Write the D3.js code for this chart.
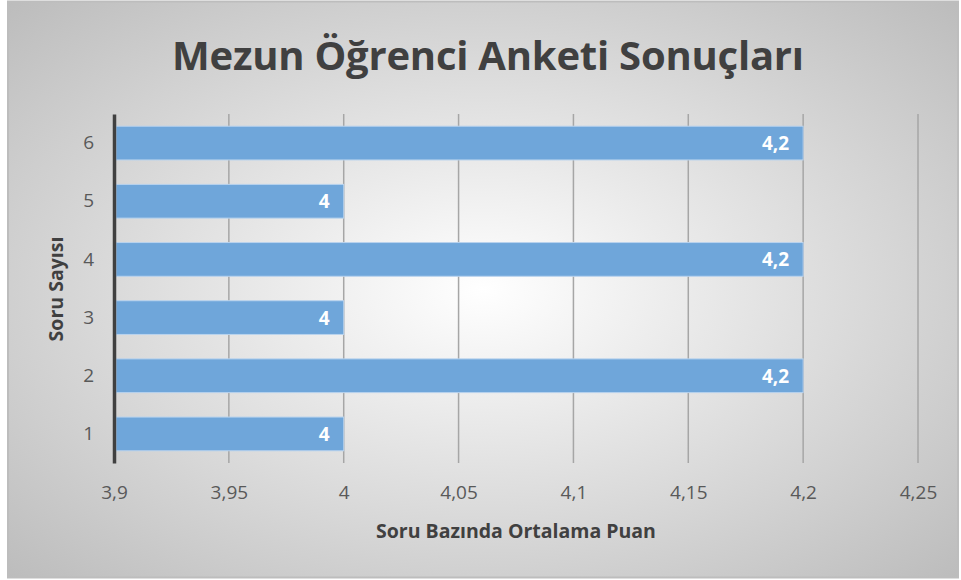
<!DOCTYPE html>
<html>
<head>
<meta charset="utf-8">
<script src="https://cdn.jsdelivr.net/npm/d3@7"></script>
<style>
  body { margin: 0; background: #fff; }
  text { font-family: "Open Sans", "Liberation Sans", sans-serif; }
</style>
</head>
<body>
<div id="chart"></div>
<script>
// data
var categories = ["1", "2", "3", "4", "5", "6"];
var values = [4, 4.2, 4, 4.2, 4, 4.2];
var xTicks = [3.9, 3.95, 4, 4.05, 4.1, 4.15, 4.2, 4.25];

var W = 961, H = 580;
var margin = {top: 114, right: 43, bottom: 117, left: 114},
    width = 918 - margin.left,
    height = 463 - margin.top;

var svg = d3.select("#chart")
  .append("svg")
    .attr("width", W)
    .attr("height", H);

// background gradient
var defs = svg.append("defs");
var grad = defs.append("radialGradient")
    .attr("id", "bg")
    .attr("cx", "50%").attr("cy", "50%").attr("r", "75%");
grad.append("stop").attr("offset", "0%").attr("stop-color", "#ffffff");
grad.append("stop").attr("offset", "100%").attr("stop-color", "#b8b8b8");

svg.append("rect")
    .attr("x", 8).attr("y", 1.5)
    .attr("width", 950).attr("height", 576)
    .attr("fill", "url(#bg)")
    .attr("stroke", "#bdbdbd")
    .attr("stroke-width", 2);

// title
svg.append("text")
    .attr("x", 488).attr("y", 70)
    .attr("text-anchor", "middle")
    .style("font-size", "40px")
    .style("font-weight", "bold")
    .style("fill", "#404040")
    .attr("textLength", 632)
    .text("Mezun Öğrenci Anketi Sonuçları");

var g = svg.append("g")
    .attr("transform", "translate(" + margin.left + "," + margin.top + ")");

var x = d3.scaleLinear()
  .domain([3.9, 4.25])
  .range([0, width]);

var y = d3.scaleBand()
  .domain(categories)
  .range([height, 0])
  .paddingInner(0.42)
  .paddingOuter(0.21);

var fmt = function(d) { return String(d).replace(".", ","); };

// vertical gridlines
g.selectAll(".grid")
  .data(xTicks.slice(1))
  .enter().append("line")
    .attr("x1", function(d) { return x(d); })
    .attr("x2", function(d) { return x(d); })
    .attr("y1", 0).attr("y2", height)
    .attr("stroke", "#a6a6a6")
    .attr("stroke-width", 1.5);

// bars
g.selectAll(".bar")
  .data(values)
  .enter().append("rect")
    .attr("x", x(3.9) + 2)
    .attr("y", function(d, i) { return y(categories[i]); })
    .attr("width", function(d) { return x(d) - x(3.9) - 2; })
    .attr("height", y.bandwidth())
    .attr("fill", "#6fa6da")
    .attr("stroke", "#b9d3ee")
    .attr("stroke-width", 1);

// value labels
g.selectAll(".lbl")
  .data(values)
  .enter().append("text")
    .attr("x", function(d) { return x(d) - 14; })
    .attr("y", function(d, i) { return y(categories[i]) + y.bandwidth() / 2 + 7; })
    .attr("text-anchor", "end")
    .style("font-size", "19px")
    .style("font-weight", "bold")
    .style("fill", "#ffffff")
    .text(function(d) { return fmt(d); });

// x axis
var xAxis = g.append("g")
  .attr("transform", "translate(0," + height + ")")
  .call(d3.axisBottom(x).tickValues(xTicks).tickFormat(fmt).tickSize(0).tickPadding(23));
xAxis.select(".domain").remove();
xAxis.selectAll("text")
  .style("font-size", "19px")
  .style("fill", "#595959")
  .style("font-family", "'Open Sans', sans-serif");

// y axis
var yAxis = g.append("g")
  .call(d3.axisLeft(y).tickSize(0).tickPadding(20));
yAxis.select(".domain")
  .attr("stroke", "#404040")
  .attr("stroke-width", 3.5);
yAxis.selectAll("text")
  .style("font-size", "19px")
  .style("fill", "#595959")
  .style("font-family", "'Open Sans', sans-serif");

// axis titles
svg.append("text")
  .attr("x", 516).attr("y", 538)
  .attr("text-anchor", "middle")
  .style("font-size", "19.5px")
  .style("font-weight", "bold")
  .style("fill", "#404040")
  .text("Soru Bazında Ortalama Puan");

svg.append("text")
  .attr("transform", "translate(63,289) rotate(-90)")
  .attr("text-anchor", "middle")
  .style("font-size", "19.5px")
  .style("font-weight", "bold")
  .style("fill", "#404040")
  .text("Soru Sayısı");
</script>
</body>
</html>
